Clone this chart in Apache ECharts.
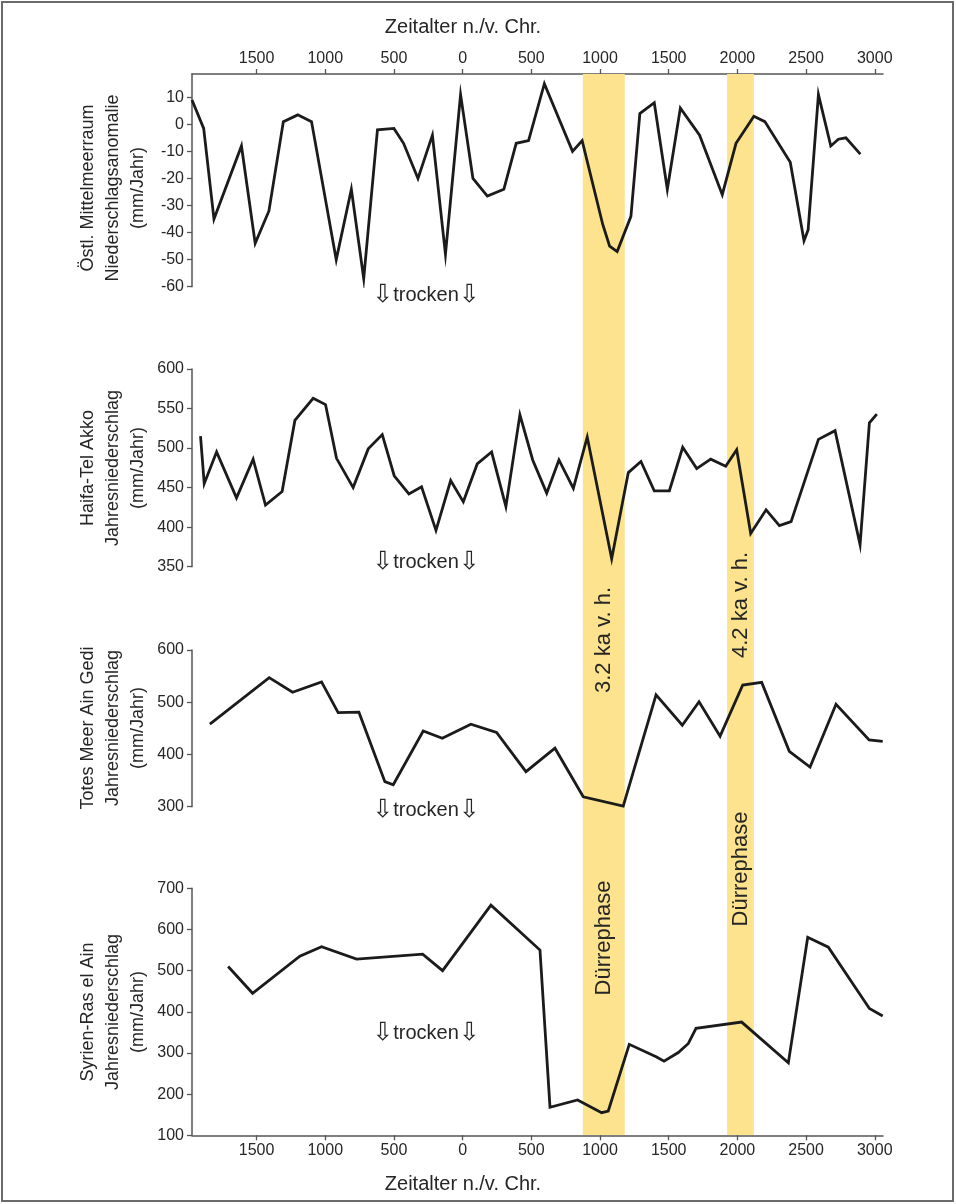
<!DOCTYPE html>
<html><head><meta charset="utf-8">
<script src="https://cdn.jsdelivr.net/npm/echarts@6/dist/echarts.min.js"></script>
<style>html,body{margin:0;padding:0;background:#fff;} #c{width:956px;height:1204px;}</style>
</head><body><div id="c"></div>
<script>
// ---- data (x: negative = n. Chr., positive = v. Chr.) ----
const xTicks = [-1500,-1000,-500,0,500,1000,1500,2000,2500,3000];
const bandStart = [875, 1925];
const bandEnd = [1180, 2120];

const p1Years = [-1970,-1885,-1810,-1610,-1510,-1410,-1305,-1200,-1100,-920,-810,-720,-620,-500,-430,-325,-220,-125,-15,75,180,300,390,480,595,800,870,1020,1070,1125,1225,1290,1395,1490,1585,1725,1890,1990,2120,2200,2385,2485,2515,2590,2680,2735,2790,2895];
const p1Vals = [9,-1.5,-35,-8,-44,-32,1,3.5,1,-50,-24,-57,-2,-1.5,-7,-20,-4,-48,11,-20,-26.5,-24,-7,-6,15,-10,-6,-37,-45,-47,-34,4,8,-24,6,-4,-26,-7,3,1,-14,-43,-39,11,-8,-5.5,-5,-11];

const p2Years = [-1908,-1881,-1791,-1646,-1525,-1435,-1314,-1221,-1088,-998,-918,-797,-687,-585,-498,-391,-299,-194,-87,5,106,211,315,417,510,612,701,806,907,1085,1206,1298,1395,1505,1602,1704,1806,1915,1995,2097,2209,2306,2391,2590,2711,2893,2961,3015];
const p2Vals = [515,455,495,437,486,428,445,535,563,555,487,450,499,517,465,442,451,396,459,432,480,495,426,542,485,443,485,449,514,360,469,483,446,446,501,474,486,477,498,392,422,402,407,511,522,378,532,543];

const p3Years = [-1840,-1408,-1238,-1027,-906,-755,-566,-505,-287,-148,60,247,461,672,878,1169,1408,1599,1721,1874,2039,2177,2378,2529,2718,2959,3058];
const p3Vals = [458,547,519,539,480,481,348,342,445,431,458,442,367,412,319,301,514,456,501,435,533,538,406,376,496,428,425];

const p4Years = [-1707,-1529,-1185,-1027,-772,-291,-146,206,563,636,837,1012,1060,1213,1412,1466,1570,1643,1699,2031,2371,2512,2662,2961,3058];
const p4Vals = [510,445,535,558,528,540,500,659,550,168,186,155,159,321,290,280,301,323,360,375,276,581,557,408,390];

const yTitles = [
  'Östl. Mittelmeerraum\nNiederschlagsanomalie\n(mm/Jahr)',
  'Haifa-Tel Akko\nJahresniederschlag\n(mm/Jahr)',
  'Totes Meer Ain Gedi\nJahresniederschlag\n(mm/Jahr)',
  'Syrien-Ras el Ain\nJahresniederschlag\n(mm/Jahr)'
];
const bandTop = ['3.2 ka v. h.', '4.2 ka v. h.'];
const bandBottom = ['Dürrephase', 'Dürrephase'];
const xTitle = 'Zeitalter n./v. Chr.';

// ---- layout ----
const FONT = "'Liberation Sans',Arial,sans-serif";
const X_MIN = -1970, X_MAX = 3060;
const LEFT = 192, WIDTH = 691;
const grids = [
  {top: 74, height: 1061},
  {top: 74, height: 212.7},
  {top: 369, height: 197.7},
  {top: 650, height: 156.7},
  {top: 888.3, height: 247}
];
const yCfg = [
  {min: 0, max: 1},
  {min: -60, max: 18.6, vals: [-60,-50,-40,-30,-20,-10,0,10]},
  {min: 350, max: 600, vals: [350,400,450,500,550,600]},
  {min: 300, max: 600, vals: [300,400,500,600]},
  {min: 100, max: 700, vals: [100,200,300,400,500,600,700]}
];
const AX = '#555';
const TXT = '#262626';

const chart = echarts.init(document.getElementById('c'), null, {renderer: 'canvas'});

const xAxis = grids.map((g, i) => {
  const shown = (i === 1 || i === 4);
  return {
    type: 'value', gridIndex: i, min: X_MIN, max: X_MAX,
    position: i === 1 ? 'top' : 'bottom',
    show: shown,
    axisLine: {show: shown, onZero: false, lineStyle: {color: AX, width: 1.5}},
    axisTick: {show: shown, length: 5, customValues: xTicks, lineStyle: {color: AX, width: 1.3}},
    axisLabel: {show: shown, customValues: xTicks, margin: 7, fontFamily: FONT, fontSize: 16, color: TXT,
      formatter: v => String(Math.abs(v))},
    splitLine: {show: false}
  };
});
const yAxis = grids.map((g, i) => {
  if (i === 0) return {type: 'value', gridIndex: 0, min: 0, max: 1, show: false};
  const c = yCfg[i];
  return {
    type: 'value', gridIndex: i, min: c.min, max: c.max, position: 'left',
    axisLine: {show: true, onZero: false, lineStyle: {color: AX, width: 1.5}},
    axisTick: {show: true, length: 5, customValues: c.vals, lineStyle: {color: AX, width: 1.3}},
    axisLabel: {show: true, customValues: c.vals, margin: 8, fontFamily: FONT, fontSize: 16, color: TXT},
    splitLine: {show: false}
  };
});

const lineStyle = {color: '#1b1b1b', width: 2.8, join: 'miter', miterLimit: 20};
function mk(years, vals, idx) {
  return {
    type: 'line', xAxisIndex: idx, yAxisIndex: idx, symbol: 'none', silent: true, z: 5,
    data: years.map((y, k) => [y, vals[k]]), lineStyle: lineStyle, animation: false
  };
}

const series = [
  {
    type: 'line', xAxisIndex: 0, yAxisIndex: 0, data: [], silent: true, z: 1, animation: false,
    markArea: {
      silent: true,
      itemStyle: {color: '#fde38d', opacity: 1},
      data: bandStart.map((s, k) => [{xAxis: s}, {xAxis: bandEnd[k]}])
    }
  },
  mk(p1Years, p1Vals, 1),
  mk(p2Years, p2Vals, 2),
  mk(p3Years, p3Vals, 3),
  mk(p4Years, p4Vals, 4)
];

chart.setOption({
  animation: false,
  backgroundColor: '#fff',
  grid: grids.map(g => ({left: LEFT, width: WIDTH, top: g.top, height: g.height, containLabel: false})),
  xAxis, yAxis, series
});

// ---- texts ----
function xPix(v) { return LEFT + (v - X_MIN) / (X_MAX - X_MIN) * WIDTH; }
const graphic = [];
graphic.push({type: 'rect', shape: {x: 2, y: 2, width: 951, height: 1199}, style: {fill: 'none', stroke: '#6a6a6a', lineWidth: 2}, silent: true});
const yTitleCenters = [188, 468, 728, 1012];
yTitles.forEach((t, i) => {
  graphic.push({type: 'text', x: 113, y: yTitleCenters[i], rotation: Math.PI / 2, silent: true,
    style: {text: t, font: '18px ' + FONT, fill: TXT, align: 'center', verticalAlign: 'middle',
      textAlign: 'center', textVerticalAlign: 'middle', lineHeight: 25}});
});
[27, 1184].forEach(y => {
  graphic.push({type: 'text', x: 463, y: y, silent: true,
    style: {text: xTitle, font: '20px ' + FONT, fill: TXT, align: 'center', verticalAlign: 'middle',
      textAlign: 'center', textVerticalAlign: 'middle'}});
});
const trockenY = [295, 562, 810, 1033];
trockenY.forEach(y => {
  graphic.push({type: 'text', x: 426, y: y, silent: true,
    style: {text: '{a|⇩}trocken{a|⇩}', font: '20px ' + FONT, fill: TXT, align: 'center', verticalAlign: 'middle',
      textAlign: 'center', textVerticalAlign: 'middle',
      rich: {a: {fontFamily: 'DejaVu Sans', fontSize: 25, fill: TXT, color: TXT}}}});
});
const topY = [640, 605];
const botY = [938, 869];
bandStart.forEach((s, k) => {
  const cx = xPix((s + bandEnd[k]) / 2);
  graphic.push({type: 'text', x: cx, y: topY[k], rotation: Math.PI / 2, silent: true, z: 100,
    style: {text: bandTop[k], font: '22px ' + FONT, fill: TXT, align: 'center', verticalAlign: 'middle',
      textAlign: 'center', textVerticalAlign: 'middle'}});
  graphic.push({type: 'text', x: cx, y: botY[k], rotation: Math.PI / 2, silent: true, z: 100,
    style: {text: bandBottom[k], font: '22px ' + FONT, fill: TXT, align: 'center', verticalAlign: 'middle',
      textAlign: 'center', textVerticalAlign: 'middle'}});
});
chart.setOption({graphic: graphic});
</script>
</body></html>
